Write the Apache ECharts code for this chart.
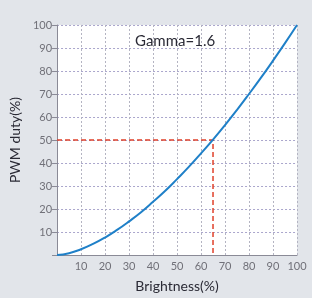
<!DOCTYPE html>
<html>
<head>
<meta charset="utf-8">
<script src="https://cdn.jsdelivr.net/npm/echarts@6/dist/echarts.min.js"></script>
<style>
  html, body { margin: 0; padding: 0; background: #e2e5ea; }
  #chart { width: 312px; height: 298px; }
</style>
</head>
<body>
<div id="chart"></div>
<script>
// brightness (%) vs PWM duty (%)
const brightness = [0, 5, 10, 15, 20, 25, 30, 35, 40, 45, 50, 55, 60, 65, 70, 75, 80, 85, 90, 95, 100];
const duty = [0, 0.8, 2.5, 4.8, 7.6, 10.9, 14.6, 18.6, 23.1, 27.8, 33.0, 38.4, 44.2, 50.2, 56.5, 63.1, 70.0, 77.1, 84.5, 92.1, 100];
// red guide: 65% brightness -> 50% duty
const guideX = [0, 65, 65];
const guideY = [50, 50, 0];
const title = 'Gamma=1.6';

const font = 'Lato, "DejaVu Sans", sans-serif';

const chart = echarts.init(document.getElementById('chart'));

chart.setOption({
  backgroundColor: '#e2e5ea',
  animation: false,
  title: {
    text: title,
    left: 130,
    top: 29,
    textStyle: { fontFamily: font, fontSize: 15, fontWeight: 'normal', color: '#2a2a35' }
  },
  grid: {
    left: 49, right: 15, top: 25, bottom: 38,
    show: true, backgroundColor: '#ffffff', borderWidth: 0
  },
  xAxis: {
    type: 'value', min: 0, max: 100, interval: 10,
    name: 'Brightness(%)', nameLocation: 'middle', nameGap: 24,
    nameTextStyle: { fontFamily: font, fontSize: 14, color: '#2a2a35' },
    axisLine: { lineStyle: { color: '#8a8a96', width: 1 } },
    axisTick: { show: false },
    axisLabel: {
      fontFamily: font, fontSize: 11, color: '#707078', margin: 6,
      formatter: v => (v === 0 ? '' : v)
    },
    splitLine: { show: true, lineStyle: { color: '#b4b4c2', type: [2, 2], width: 1 } }
  },
  yAxis: {
    type: 'value', min: 0, max: 100, interval: 10,
    name: 'PWM duty(%)', nameLocation: 'middle', nameGap: 31,
    nameTextStyle: { fontFamily: font, fontSize: 14, color: '#2a2a35' },
    axisLine: { show: true, lineStyle: { color: '#8a8a96', width: 1 } },
    axisTick: { show: true, length: 5, lineStyle: { color: '#8a8a96' } },
    axisLabel: {
      fontFamily: font, fontSize: 11, color: '#707078', margin: 5,
      formatter: v => (v === 0 ? '' : v)
    },
    splitLine: { show: true, lineStyle: { color: '#aaa6cc', type: [2, 2], width: 1 } }
  },
  series: [
    {
      type: 'line',
      data: guideX.map((x, i) => [x, guideY[i]]),
      showSymbol: false,
      lineStyle: { color: '#e0402a', width: 1.5, type: [5, 3] },
      z: 3
    },
    {
      type: 'line',
      data: brightness.map((x, i) => [x, duty[i]]),
      smooth: true,
      showSymbol: false,
      lineStyle: { color: '#1f80c8', width: 2 },
      z: 4
    }
  ]
});
</script>
</body>
</html>
